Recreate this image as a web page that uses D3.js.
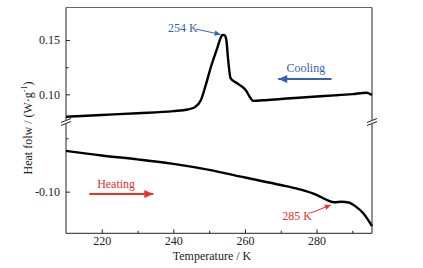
<!DOCTYPE html>
<html><head><meta charset="utf-8">
<script src="https://cdn.jsdelivr.net/npm/d3@7"></script>
<style>html,body{margin:0;padding:0;background:#fff;}svg{display:block;}</style>
</head><body>
<svg id="c" width="423" height="268"></svg>
<script>
// ---- data ----
const coolT = [210, 220, 230, 240, 244, 246, 247.7, 249, 250.5, 252.4, 253.2, 253.7, 254.3, 254.8, 255.3, 256, 257.9, 260.2, 261.6, 262.3, 265, 270, 275, 280, 285, 290, 294, 295.5];
const coolV = [0.0794, 0.0810, 0.0826, 0.0845, 0.0860, 0.0880, 0.0947, 0.108, 0.1254, 0.144, 0.152, 0.1546, 0.1545, 0.150, 0.132, 0.1147, 0.110, 0.104, 0.0963, 0.094, 0.0945, 0.0957, 0.0969, 0.098, 0.099, 0.1002, 0.1015, 0.0993];
const heatT = [210, 220, 230, 240, 250, 260, 270, 275, 280, 283, 285, 287, 289, 291, 293, 295.5];
const heatV = [-0.0809, -0.0831, -0.0849, -0.0870, -0.0898, -0.0934, -0.0969, -0.0988, -0.1015, -0.1040, -0.1050, -0.1047, -0.1051, -0.1070, -0.1100, -0.1161];
const xTicks = [220, 240, 260, 280];
const xMinor = [230, 250, 270, 290];
const yTicksUpper = [0.10, 0.15];
const yMinorUpper = [0.125];
const yTicksLower = [-0.10];
const yMinorLower = [-0.075];

const W = 423, H = 268;
const L = 66, R = 372, T = 7.5, B = 233.3, BRK = 122;
const svg = d3.select("#c");
const font = "'Liberation Serif', 'Times New Roman', serif";

const x = d3.scaleLinear().domain([210, 295.5]).range([L, R]);
const yU = d3.scaleLinear().domain([0.0745, 0.180]).range([BRK, T]);
const yL = d3.scaleLinear().domain([-0.1195, -0.0674]).range([B, BRK]);

// frame
const ax = svg.append("g").attr("stroke", "#222").attr("stroke-width", 1).attr("fill", "none");
ax.append("line").attr("x1", L).attr("x2", R).attr("y1", B).attr("y2", B);
ax.append("line").attr("x1", L).attr("x2", R).attr("y1", T).attr("y2", T).attr("stroke", "#666");
[L, R].forEach(xx => {
  ax.append("line").attr("x1", xx).attr("x2", xx).attr("y1", T).attr("y2", BRK - 2);
  ax.append("line").attr("x1", xx).attr("x2", xx).attr("y1", BRK + 2).attr("y2", B);
  ax.append("line").attr("x1", xx - 5).attr("x2", xx + 5).attr("y1", BRK + 0.5).attr("y2", BRK - 3.5);
  ax.append("line").attr("x1", xx - 5).attr("x2", xx + 5).attr("y1", BRK + 3.5).attr("y2", BRK - 0.5);
});

// x axis ticks (inward)
const gx = svg.append("g").attr("transform", `translate(0,${B})`)
  .call(d3.axisBottom(x).tickValues(xTicks).tickSize(-4).tickPadding(3).tickFormat(d3.format("d")));
gx.select(".domain").remove();
gx.selectAll("line").attr("stroke", "#222");
gx.selectAll("text").attr("font-family", font).attr("font-size", 12).attr("fill", "#222");
svg.append("g").attr("transform", `translate(0,${B})`)
  .call(d3.axisBottom(x).tickValues(xMinor).tickSize(-2.5).tickFormat(""))
  .call(g => { g.select(".domain").remove(); g.selectAll("line").attr("stroke", "#222"); });

// y axes
const fmtY = d => d3.format(".2f")(d).replace("−", "-");
function yAxis(scale, major, minor) {
  const g = svg.append("g").attr("transform", `translate(${L},0)`)
    .call(d3.axisLeft(scale).tickValues(major).tickSize(-4).tickPadding(6).tickFormat(fmtY));
  g.select(".domain").remove();
  g.selectAll("line").attr("stroke", "#222");
  g.selectAll("text").attr("font-family", font).attr("font-size", 12).attr("fill", "#222");
  svg.append("g").attr("transform", `translate(${L},0)`)
    .call(d3.axisLeft(scale).tickValues(minor).tickSize(-2.5).tickFormat(""))
    .call(g2 => { g2.select(".domain").remove(); g2.selectAll("line").attr("stroke", "#222"); });
}
yAxis(yU, yTicksUpper, yMinorUpper);
yAxis(yL, yTicksLower, yMinorLower);

// curves
const lineU = d3.line().x((d, i) => x(coolT[i])).y(d => yU(d)).curve(d3.curveMonotoneX);
const lineL = d3.line().x((d, i) => x(heatT[i])).y(d => yL(d)).curve(d3.curveMonotoneX);
svg.append("path").attr("d", lineU(coolV)).attr("fill", "none").attr("stroke", "#000").attr("stroke-width", 2.4).attr("stroke-linejoin", "round");
svg.append("path").attr("d", lineL(heatV)).attr("fill", "none").attr("stroke", "#000").attr("stroke-width", 2.4).attr("stroke-linejoin", "round");

// annotations
const BLUE = "#3a5fb5", RED = "#e8322b";
function arrow(x1, y1, x2, y2, color, w, head) {
  svg.append("line").attr("x1", x1).attr("y1", y1).attr("x2", x2).attr("y2", y2)
    .attr("stroke", color).attr("stroke-width", w);
  const a = Math.atan2(y2 - y1, x2 - x1);
  const hl = head, hw = head * 0.45;
  const p = [[x2, y2],
    [x2 - hl * Math.cos(a) + hw * Math.sin(a), y2 - hl * Math.sin(a) - hw * Math.cos(a)],
    [x2 - hl * Math.cos(a) - hw * Math.sin(a), y2 - hl * Math.sin(a) + hw * Math.cos(a)]];
  svg.append("polygon").attr("points", p.map(q => q.join(",")).join(" ")).attr("fill", color);
}
function label(txt, xx, yy, color) {
  svg.append("text").attr("x", xx).attr("y", yy).attr("dominant-baseline", "central")
    .attr("font-family", font).attr("font-size", 12).attr("fill", color).text(txt);
}
label("254 K", x(238.5), yU(0.1608), BLUE);
arrow(x(246.3), yU(0.1601), x(253.2), yU(0.1552), BLUE, 1, 6);
label("Cooling", x(271.6), yU(0.124), BLUE);
arrow(x(284.2), yU(0.1141), x(269.3), yU(0.1141), BLUE, 2, 9);
label("Heating", x(218.7), yL(-0.0964), RED);
arrow(x(216.5), yL(-0.1011), x(234.4), yL(-0.1011), RED, 2, 9);
label("285 K", x(270.4), yL(-0.1114), RED);
arrow(x(278.4), yL(-0.1100), x(284.0), yL(-0.1062), RED, 1, 6);

// axis titles
svg.append("text").attr("x", 212).attr("y", 259.5).attr("text-anchor", "middle")
  .attr("font-family", font).attr("font-size", 12).attr("fill", "#222").text("Temperature / K");
const yt = svg.append("text").attr("transform", "translate(32,128) rotate(-90)").attr("text-anchor", "middle")
  .attr("font-family", font).attr("font-size", 12).attr("fill", "#222");
yt.append("tspan").text("Heat folw / (W·g");
yt.append("tspan").attr("font-size", 8).attr("dy", -5).text("-1");
yt.append("tspan").attr("dy", 5).text(")");
</script>
</body></html>
